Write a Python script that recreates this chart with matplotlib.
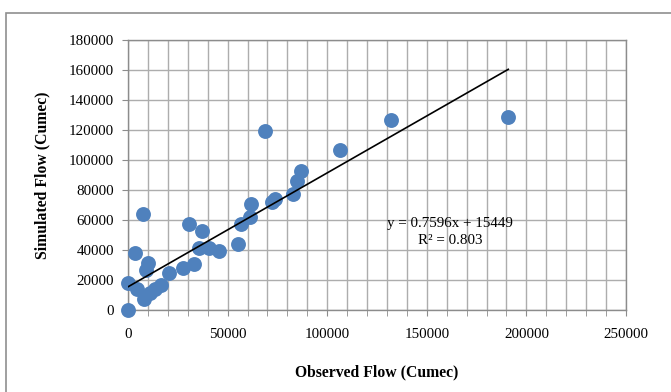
"""Observed vs simulated flow scatter with linear trend line (Excel-style)."""

import matplotlib

matplotlib.use("Agg")
import matplotlib.pyplot as plt
import numpy as np
from matplotlib.patches import Rectangle
from matplotlib.ticker import MultipleLocator

# values (cumec)
observed = [0, 200, 3500, 7700, 8900, 10200, 4400, 8200, 11000, 13500,
            16600, 20600, 27800, 33300, 30500, 37000, 35500, 40500, 45800,
            55000, 56700, 61000, 61700, 68800, 72100, 73900, 83000, 84700,
            86600, 106200, 131800, 190900]
simulated = [0, 17800, 38200, 64000, 26700, 31500, 13800, 7100, 11100, 13800,
             16700, 24900, 28300, 30400, 57500, 53000, 41300, 41300, 39600,
             44000, 57200, 61700, 70900, 119600, 72000, 74200, 77500, 86000,
             92700, 106700, 126400, 128900]
slope, intercept, r2 = 0.7596, 15449, 0.803

BLUE = "#4F81BD"
GRID = "#adadad"
AXIS = "#8c8c8c"
W, H = 671, 392

plt.rcParams.update({"font.family": "serif",
                     "font.serif": ["Liberation Serif", "DejaVu Serif"]})

fig = plt.figure(figsize=(W / 100, H / 100), dpi=100)
fig.patches.append(Rectangle((5.5 / W, -0.1), 1.2, 1 - 12.5 / H + 0.1,
                             transform=fig.transFigure, fill=False,
                             edgecolor="#8f8f8f", lw=1.2))
ax = fig.add_axes([128 / W, 1 - 310 / H, 498 / W, 270 / H])

x = np.asarray(observed, dtype=float)
y = np.asarray(simulated, dtype=float)
ax.scatter(x, y, s=115, color=BLUE, linewidths=0, zorder=3, clip_on=False)
xs = np.array([x.min(), x.max()])
ax.plot(xs, slope * xs + intercept, color="black", lw=1.2, zorder=4)

ax.set_xlim(0, 250000)
ax.set_ylim(0, 180000)
ax.xaxis.set_major_locator(MultipleLocator(50000))
ax.xaxis.set_minor_locator(MultipleLocator(10000))
ax.yaxis.set_major_locator(MultipleLocator(20000))
ax.grid(which="both", axis="x", color=GRID, lw=1.0)
ax.grid(which="major", axis="y", color=GRID, lw=1.0)
ax.set_axisbelow(True)
for side in ax.spines.values():
    side.set_color(AXIS)
    side.set_linewidth(1.0)
ax.tick_params(which="both", direction="out", color=AXIS, length=4,
               labelsize=10.8, pad=6)
ax.tick_params(axis="x", pad=9)

ax.set_xlabel("Observed Flow (Cumec)", fontsize=11.3, fontweight="bold",
              labelpad=17)
ax.set_ylabel("Simulated Flow (Cumec)", fontsize=11.3, fontweight="bold",
              labelpad=13)

# equation label block, placed in pixel coords like Excel's trendline label
fig.text(450 / W, 1 - 223 / H, f"y = {slope}x + {intercept}", fontsize=10.8,
         ha="center", va="center")
fig.text(450 / W, 1 - 241 / H, f"R² = {r2}", fontsize=10.8,
         ha="center", va="center")

fig.savefig("out.png", dpi=100)
